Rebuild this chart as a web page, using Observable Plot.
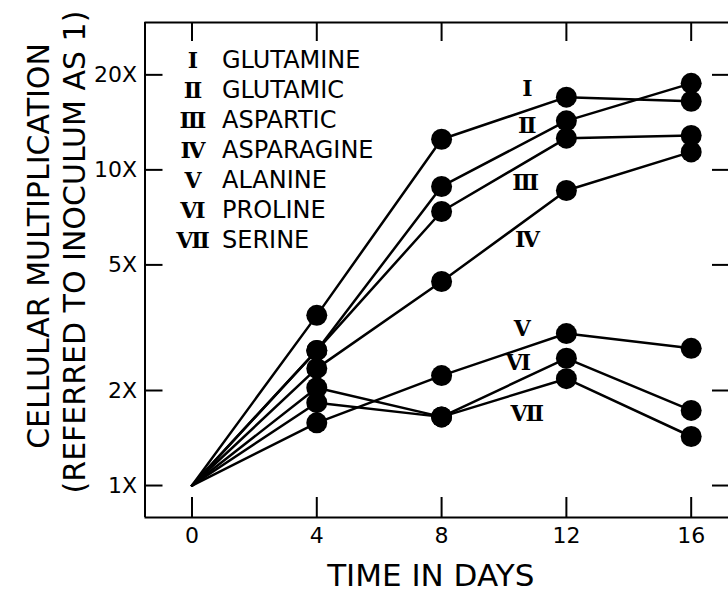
<!DOCTYPE html>
<html><head><meta charset="utf-8">
<script src="https://cdn.jsdelivr.net/npm/d3@7"></script>
<script src="https://cdn.jsdelivr.net/npm/@observablehq/plot@0.6"></script>
<style>
body{margin:0;background:#fff;}
#wrap{position:relative;width:728px;height:594px;}
#legend{position:absolute;left:170px;top:45px;font-family:"DejaVu Sans";font-size:24px;color:#000;}
.row{display:flex;height:30px;align-items:center;}
.row span{line-height:26px;height:26px;}
.num{width:46px;text-align:center;font-family:"DejaVu Serif";font-weight:700;font-size:22px;}
.name{margin-left:6px;}
</style></head><body><div id="wrap"></div>
<script>
const days = [0, 4, 8, 12, 16];
const glutamine  = [1, 3.46, 12.5, 17.0, 16.5];
const glutamic   = [1, 2.68, 8.86, 14.3, 18.8];
const aspartic   = [1, 2.68, 7.38, 12.6, 12.85];
const asparagine = [1, 2.35, 4.43, 8.6, 11.4];
const alanine    = [1, 1.58, 2.23, 3.03, 2.72];
const proline    = [1, 2.04, 1.65, 2.53, 1.73];
const serine     = [1, 1.83, 1.65, 2.18, 1.43];
const numerals = ["Ⅰ","Ⅱ","Ⅲ","Ⅳ","Ⅴ","Ⅵ","Ⅶ"];
const names = ["GLUTAMINE","GLUTAMIC","ASPARTIC","ASPARAGINE","ALANINE","PROLINE","SERINE"];
const labelX = [10.75, 10.75, 10.69, 10.75, 10.59, 10.46, 10.75];
const labelY = [18.1, 13.8, 9.06, 5.98, 3.14, 2.44, 1.69];
const xTicks = [0, 4, 8, 12, 16];
const yTicks = [1, 2, 5, 10, 20];
const xDomain = [-1.506, 17.26];
const yDomain = [0.792, 29.3];

const allSeries = [glutamine, glutamic, aspartic, asparagine, alanine, proline, serine];
const rows = allSeries.flatMap((vals, k) => days.map((d, i) => ({series: numerals[k], day: d, value: vals[i]})));

const tickOnly = {tickFormat: () => "", fill: "none", label: null, strokeWidth: 2};

const plot = Plot.plot({
  width: 728, height: 594,
  marginLeft: 144.5, marginRight: 0, marginTop: 22, marginBottom: 77,
  style: {fontFamily: "DejaVu Sans", fontSize: "22px", color: "black", background: "white", overflow: "hidden"},
  x: {domain: xDomain, range: [144.5, 730]},
  y: {type: "log", domain: yDomain},
  marks: [
    Plot.ruleX([xDomain[0]], {strokeWidth: 2}),
    Plot.ruleY(yDomain, {strokeWidth: 2}),
    Plot.axisX(xTicks, {anchor: "bottom", tickSize: -20, ...tickOnly}),
    Plot.axisX(xTicks, {anchor: "top", tickSize: -18, ...tickOnly}),
    Plot.axisX(xTicks, {anchor: "bottom", tickSize: 0, tickPadding: 10, label: null, fontSize: 22}),
    Plot.axisY(yTicks, {anchor: "left", tickSize: -18, ...tickOnly}),
    Plot.axisY(yTicks, {anchor: "right", tickSize: -17, ...tickOnly}),
    Plot.axisY(yTicks, {anchor: "left", tickSize: 0, tickPadding: 8, tickFormat: d => d + "X", label: null, fontSize: 22}),
    Plot.line(rows, {x: "day", y: "value", z: "series", stroke: "black", strokeWidth: 2.5}),
    Plot.dot(rows.filter(d => d.day > 0), {x: "day", y: "value", r: 10.5, fill: "black"}),
    Plot.text(numerals, {x: labelX, y: labelY, text: d => d, fontFamily: "DejaVu Serif", fontWeight: 700, fontSize: 22}),
    Plot.text(["TIME IN DAYS"], {frameAnchor: "bottom", textAnchor: "middle", lineAnchor: "middle", dx: -6, dy: 59, fontSize: 31}),
    Plot.text(["CELLULAR MULTIPLICATION"], {frameAnchor: "left", textAnchor: "middle", lineAnchor: "middle", rotate: -90, dx: -106, dy: -24, fontSize: 30}),
    Plot.text(["(REFERRED TO INOCULUM AS 1)"], {frameAnchor: "left", textAnchor: "middle", lineAnchor: "middle", rotate: -90, dx: -70, dy: -18, fontSize: 30})
  ]
});
const wrap = document.getElementById("wrap");
wrap.appendChild(plot);
const legend = document.createElement("div");
legend.id = "legend";
names.forEach((n, i) => {
  const r = document.createElement("div"); r.className = "row";
  const a = document.createElement("span"); a.className = "num"; a.textContent = numerals[i];
  const b = document.createElement("span"); b.className = "name"; b.textContent = n;
  r.appendChild(a); r.appendChild(b); legend.appendChild(r);
});
wrap.appendChild(legend);
</script>
</body></html>
